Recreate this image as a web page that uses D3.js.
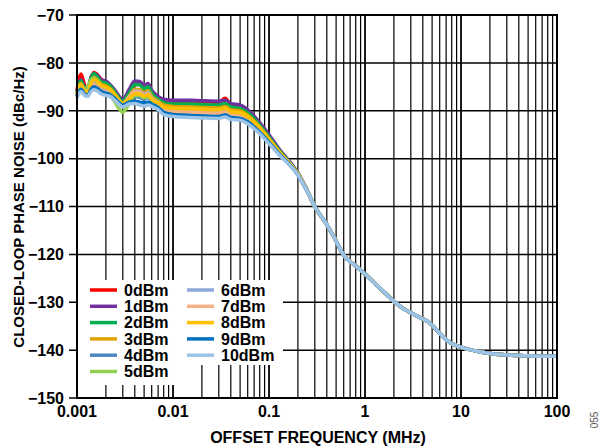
<!DOCTYPE html>
<html>
<head>
<meta charset="utf-8">
<script src="https://cdn.jsdelivr.net/npm/d3@7"></script>
<style>
  html, body { margin: 0; padding: 0; background: #fff; }
  svg { display: block; }
  text { font-family: Arial, "Liberation Sans", sans-serif; }
</style>
</head>
<body>
<svg id="chart" width="611" height="446"></svg>
<script>
// ---------------- DATA ----------------
const seriesNames = ["0dBm","1dBm","2dBm","3dBm","4dBm","5dBm","6dBm","7dBm","8dBm","9dBm","10dBm"];

// Offset frequencies (MHz) for the part where the curves differ
const freqLow = [0.001, 0.0011, 0.0012, 0.0013, 0.0014, 0.0015, 0.0016, 0.0018, 0.002, 0.0022,
                 0.0025, 0.003, 0.0035, 0.004, 0.0045, 0.005, 0.0055, 0.006, 0.007, 0.008,
                 0.01, 0.015, 0.02, 0.03, 0.035, 0.04, 0.05, 0.06, 0.08, 0.1,
                 0.13, 0.17, 0.2, 0.25];

// Shared tail (all curves overlap)
const freqTail = [0.3, 0.4, 0.5, 0.6, 0.8, 1, 1.3, 1.6, 2, 2.5, 3, 3.5, 4, 4.5, 5, 6, 7, 8, 10,
                  13, 16, 20, 30, 50, 70, 100];
const noiseTail = [-110.0, -113.8, -117.2, -120.2, -122.4, -124.1, -126.3, -128.0, -129.8, -131.3,
                   -132.2, -132.9, -133.5, -134.0, -134.8, -136.5, -137.8, -138.6, -139.4,
                   -140.0, -140.4, -140.7, -141.0, -141.2, -141.3, -141.3];

// Phase noise (dBc/Hz) per output power, over freqLow
const pn0dBm  = [-85.8, -82.3, -84.6, -85.5, -83.2, -82.0, -82.3, -83.5, -84.0, -84.6, -86.0, -87.8, -86.0, -84.5, -84.5, -85.2, -84.8, -86.0, -87.3, -87.8, -88.0, -88.0, -88.1, -88.2, -87.4, -88.7, -89.0, -90.0, -92.7, -95.3, -98.4, -101.2, -103.1, -106.7];
const pn1dBm  = [-86.0, -83.5, -85.0, -85.3, -83.0, -82.3, -82.5, -83.6, -83.8, -84.5, -85.8, -87.6, -85.5, -83.8, -83.9, -84.7, -84.3, -85.7, -87.0, -87.6, -87.8, -87.8, -87.9, -88.0, -87.8, -88.5, -88.8, -89.8, -92.5, -95.0, -98.2, -101.0, -103.0, -106.6];
const pn2dBm  = [-86.2, -83.8, -85.4, -85.6, -83.3, -82.2, -82.8, -84.0, -84.2, -84.8, -86.2, -88.0, -86.3, -84.5, -84.6, -85.4, -85.0, -86.3, -87.6, -88.3, -88.6, -88.6, -88.7, -88.8, -88.5, -89.2, -89.5, -90.4, -93.0, -95.5, -98.5, -101.2, -103.1, -106.7];
const pn3dBm  = [-86.5, -84.3, -85.8, -86.0, -84.0, -83.0, -83.4, -84.5, -84.8, -85.3, -86.6, -88.4, -87.0, -85.5, -85.6, -86.2, -85.8, -87.0, -88.0, -88.8, -89.1, -89.2, -89.3, -89.4, -89.1, -89.8, -90.0, -90.9, -93.4, -95.8, -98.7, -101.3, -103.2, -106.7];
const pn4dBm  = [-87.0, -85.0, -86.3, -86.5, -85.0, -84.3, -84.6, -85.5, -85.8, -86.2, -87.3, -89.0, -88.0, -87.0, -87.2, -87.6, -87.2, -88.0, -88.8, -89.8, -90.3, -90.5, -90.6, -90.7, -90.4, -90.9, -91.1, -91.9, -94.2, -96.4, -99.1, -101.5, -103.3, -106.8];
const pn5dBm  = [-86.8, -84.8, -85.8, -84.8, -83.5, -83.2, -83.6, -85.0, -85.6, -86.5, -88.3, -90.3, -88.5, -86.8, -86.8, -87.3, -87.0, -87.8, -88.7, -89.5, -90.0, -90.2, -90.3, -90.4, -90.2, -90.7, -91.0, -91.8, -94.0, -96.3, -99.0, -101.5, -103.3, -106.8];
const pn6dBm  = [-86.6, -84.6, -86.0, -86.2, -84.5, -83.8, -84.1, -85.0, -85.4, -85.9, -87.0, -88.7, -87.3, -85.8, -85.9, -86.6, -86.2, -87.3, -88.3, -89.3, -89.8, -90.0, -90.1, -90.2, -89.9, -90.5, -90.7, -91.5, -93.9, -96.1, -98.9, -101.4, -103.3, -106.8];
const pn7dBm  = [-87.2, -85.5, -86.5, -86.6, -85.0, -84.5, -84.8, -85.7, -86.0, -86.3, -87.2, -88.6, -87.0, -86.0, -86.1, -86.8, -86.4, -87.5, -88.5, -89.6, -90.1, -90.3, -90.4, -90.5, -90.1, -90.8, -91.0, -91.8, -94.1, -96.3, -99.0, -101.5, -103.3, -106.8];
const pn8dBm  = [-86.4, -84.5, -85.9, -86.1, -84.3, -83.5, -83.8, -84.8, -85.1, -85.6, -86.8, -88.5, -87.5, -86.5, -86.5, -87.0, -86.7, -87.6, -88.4, -89.2, -89.5, -89.6, -89.7, -89.8, -89.4, -90.2, -90.4, -91.2, -93.6, -96.0, -98.8, -101.4, -103.2, -106.7];
const pn9dBm  = [-87.0, -85.5, -86.5, -86.8, -85.5, -85.0, -85.2, -86.0, -86.3, -86.6, -87.5, -88.8, -88.2, -88.0, -88.2, -88.4, -88.2, -88.6, -89.3, -90.3, -90.8, -91.0, -91.1, -91.2, -90.9, -91.4, -91.6, -92.3, -94.5, -96.6, -99.2, -101.6, -103.4, -106.8];
const pn10dBm = [-87.3, -86.0, -86.8, -87.0, -86.0, -85.6, -85.8, -86.5, -86.8, -87.0, -87.9, -89.2, -88.6, -88.5, -88.8, -89.0, -88.8, -89.1, -89.8, -90.8, -91.2, -91.4, -91.5, -91.6, -91.3, -91.8, -92.0, -92.7, -94.8, -96.9, -99.4, -101.7, -103.4, -106.8];

const seriesValues = [pn0dBm, pn1dBm, pn2dBm, pn3dBm, pn4dBm, pn5dBm, pn6dBm, pn7dBm, pn8dBm, pn9dBm, pn10dBm];

const xTickValues = [0.001, 0.01, 0.1, 1, 10, 100];
const xTickLabels = ["0.001", "0.01", "0.1", "1", "10", "100"];
const yTickValues = [-150, -140, -130, -120, -110, -100, -90, -80, -70];

// ---------------- STYLE ----------------
const colors = ["#ff0000", "#7030a0", "#00b050", "#e0a400", "#4f85c0", "#92d050",
                "#8ea9db", "#f4b183", "#ffc000", "#0070c0", "#9dc3e6"];

const svg = d3.select("#chart");
const L = 77, R = 557, T = 15, B = 398;
const x = d3.scaleLog().domain([0.001, 100]).range([L, R]);
const y = d3.scaleLinear().domain([-150, -70]).range([B, T]);

// gridlines
const vGrid = [];
for (let d = 0.001; d < 99; d *= 10) {
  for (let k = 1; k <= 9; k++) vGrid.push({v: +(d * k).toPrecision(3), major: k === 1});
}
const g = svg.append("g");
g.selectAll("line.v").data(vGrid).join("line")
  .attr("x1", d => x(d.v)).attr("x2", d => x(d.v))
  .attr("y1", T).attr("y2", B)
  .attr("stroke", "#000").attr("stroke-width", d => d.major ? 1.8 : 1.2);
g.selectAll("line.h").data(yTickValues).join("line")
  .attr("x1", L - 8).attr("x2", R)
  .attr("y1", d => y(d)).attr("y2", d => y(d))
  .attr("stroke", "#000").attr("stroke-width", 1.5);

// legend background (covers grid)
const legBg = svg.append("g");
legBg.append("rect").attr("x", L + 1).attr("y", 280).attr("width", 104).attr("height", 105).attr("fill", "#fff");
legBg.append("rect").attr("x", L + 104).attr("y", 280).attr("width", 102).attr("height", 85).attr("fill", "#fff");

// curves
const line = d3.line()
  .x(d => x(d[0])).y(d => y(d[1]))
  .curve(d3.curveMonotoneX);

const lineData = seriesValues.map(vals =>
  freqLow.map((f, i) => [f, vals[i]]).concat(freqTail.map((f, i) => [f, noiseTail[i]]))
);

svg.append("g").selectAll("path").data(lineData).join("path")
  .attr("d", line)
  .attr("fill", "none")
  .attr("stroke", (d, i) => colors[i])
  .attr("stroke-width", 3.5)
  .attr("stroke-linejoin", "round");

// frame
svg.append("rect").attr("x", L).attr("y", T).attr("width", R - L).attr("height", B - T)
  .attr("fill", "none").attr("stroke", "#000").attr("stroke-width", 2);

// y tick labels
svg.append("g").selectAll("text").data(yTickValues).join("text")
  .attr("x", 64).attr("y", d => y(d)).attr("dy", "0.36em")
  .attr("text-anchor", "end")
  .attr("font-size", 16).attr("font-weight", "bold")
  .text(d => d < 0 ? "\u2212" + Math.abs(d) : d);

// x tick labels
svg.append("g").selectAll("text").data(xTickValues).join("text")
  .attr("x", d => x(d)).attr("y", 417)
  .attr("text-anchor", "middle")
  .attr("font-size", 16).attr("font-weight", "bold")
  .text((d, i) => xTickLabels[i]);

// axis titles
svg.append("text")
  .attr("x", 318).attr("y", 443)
  .attr("text-anchor", "middle")
  .attr("font-size", 16).attr("font-weight", "bold")
  .text("OFFSET FREQUENCY (MHz)");
svg.append("text")
  .attr("transform", "translate(24,207) rotate(-90)")
  .attr("text-anchor", "middle")
  .attr("font-size", 15).attr("font-weight", "bold")
  .text("CLOSED-LOOP PHASE NOISE (dBc/Hz)");

// legend
const legend = svg.append("g");
seriesNames.forEach((name, i) => {
  const col = i < 6 ? 0 : 1;
  const row = i < 6 ? i : i - 6;
  const lx = col === 0 ? 90 : 187;
  const ly = 290 + row * 16.3;
  legend.append("line")
    .attr("x1", lx).attr("x2", lx + 27).attr("y1", ly).attr("y2", ly)
    .attr("stroke", colors[i]).attr("stroke-width", 3.5);
  legend.append("text")
    .attr("x", lx + 34).attr("y", ly).attr("dy", "0.36em")
    .attr("font-size", 16).attr("font-weight", "bold")
    .text(name);
});

// figure id
svg.append("text")
  .attr("transform", "translate(598,420) rotate(-90)")
  .attr("text-anchor", "middle")
  .attr("font-size", 10).attr("fill", "#555")
  .text("055");
</script>
</body>
</html>
